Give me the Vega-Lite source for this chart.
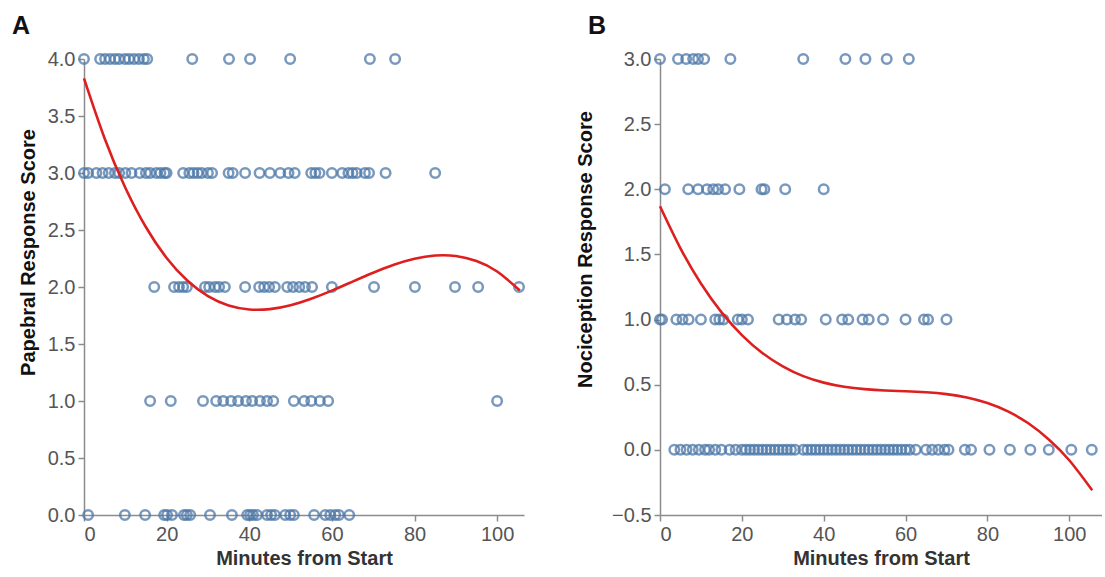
{
  "$schema": "https://vega.github.io/schema/vega-lite/v6.json",
  "background": "white",
  "padding": {"left": 12, "top": 14, "right": 0, "bottom": 2},
  "config": {
    "font": "Liberation Sans",
    "view": {"stroke": null},
    "axis": {"grid": false, "domainColor": "#8c8c8c", "domainWidth": 1.5, "tickColor": "#8c8c8c", "tickWidth": 1.5, "tickSize": 6, "labelFontSize": 20, "labelColor": "#555", "titleFontSize": 20, "titleFontWeight": "bold", "titleColor": "#333", "labelPadding": 3},
    "concat": {"spacing": 46},
    "title": {"anchor": "start", "frame": "group", "fontSize": 25, "fontWeight": "bold", "color": "#111", "dx": -72, "offset": 10}
  },
  "datasets": {
    "pA": [
      {"t":0,"s":4},{"t":3.9,"s":4},{"t":5.1,"s":4},{"t":6.3,"s":4},{"t":7.5,"s":4},{"t":8.5,"s":4},{"t":9.9,"s":4},{"t":10.9,"s":4},{"t":12.1,"s":4},{"t":13.3,"s":4},{"t":14.5,"s":4},{"t":15.3,"s":4},{"t":26.2,"s":4},{"t":35.1,"s":4},{"t":40.2,"s":4},{"t":49.9,"s":4},{"t":69.2,"s":4},{"t":75.3,"s":4},
      {"t":0,"s":3},{"t":1,"s":3},{"t":3,"s":3},{"t":4.5,"s":3},{"t":6,"s":3},{"t":7.5,"s":3},{"t":8.5,"s":3},{"t":10,"s":3},{"t":11.5,"s":3},{"t":13.5,"s":3},{"t":15,"s":3},{"t":16,"s":3},{"t":17.5,"s":3},{"t":18.5,"s":3},{"t":19.5,"s":3},{"t":20,"s":3},{"t":24,"s":3},{"t":25.5,"s":3},{"t":26.5,"s":3},{"t":27.5,"s":3},{"t":28.5,"s":3},{"t":30,"s":3},{"t":31,"s":3},{"t":35,"s":3},{"t":36,"s":3},{"t":39,"s":3},{"t":42.5,"s":3},{"t":45,"s":3},{"t":47.5,"s":3},{"t":49.5,"s":3},{"t":51,"s":3},{"t":55,"s":3},{"t":56,"s":3},{"t":57,"s":3},{"t":60,"s":3},{"t":62.5,"s":3},{"t":64,"s":3},{"t":65,"s":3},{"t":66,"s":3},{"t":68,"s":3},{"t":69,"s":3},{"t":73,"s":3},{"t":85,"s":3},
      {"t":17,"s":2},{"t":21.8,"s":2},{"t":23,"s":2},{"t":24,"s":2},{"t":24.9,"s":2},{"t":29.3,"s":2},{"t":30.3,"s":2},{"t":31.7,"s":2},{"t":32.7,"s":2},{"t":34.1,"s":2},{"t":39,"s":2},{"t":42.4,"s":2},{"t":43.6,"s":2},{"t":44.8,"s":2},{"t":46.2,"s":2},{"t":49.2,"s":2},{"t":50.6,"s":2},{"t":52.1,"s":2},{"t":53.5,"s":2},{"t":55.2,"s":2},{"t":60,"s":2},{"t":70.2,"s":2},{"t":80.1,"s":2},{"t":89.8,"s":2},{"t":95.4,"s":2},{"t":105.3,"s":2},
      {"t":16,"s":1},{"t":21,"s":1},{"t":28.8,"s":1},{"t":32,"s":1},{"t":33.7,"s":1},{"t":35.6,"s":1},{"t":37.3,"s":1},{"t":39.2,"s":1},{"t":40.7,"s":1},{"t":42.6,"s":1},{"t":44.3,"s":1},{"t":45.8,"s":1},{"t":50.8,"s":1},{"t":53.3,"s":1},{"t":55,"s":1},{"t":57.1,"s":1},{"t":59.1,"s":1},{"t":100,"s":1},
      {"t":1,"s":0},{"t":9.9,"s":0},{"t":14.8,"s":0},{"t":19.4,"s":0},{"t":20.1,"s":0},{"t":21.3,"s":0},{"t":24.2,"s":0},{"t":24.9,"s":0},{"t":25.7,"s":0},{"t":30.5,"s":0},{"t":35.8,"s":0},{"t":39.5,"s":0},{"t":40.2,"s":0},{"t":40.9,"s":0},{"t":41.9,"s":0},{"t":44.3,"s":0},{"t":45.3,"s":0},{"t":46.2,"s":0},{"t":48.7,"s":0},{"t":49.9,"s":0},{"t":50.8,"s":0},{"t":55.7,"s":0},{"t":58.4,"s":0},{"t":59.6,"s":0},{"t":60.8,"s":0},{"t":61.7,"s":0},{"t":64.2,"s":0}
    ],
    "cA": [
      {"t":0,"s":3.83},{"t":5,"s":3.303},{"t":10,"s":2.871},{"t":15,"s":2.524},{"t":20,"s":2.255},{"t":25,"s":2.057},{"t":30,"s":1.92},{"t":35,"s":1.838},{"t":40,"s":1.803},{"t":45,"s":1.806},{"t":50,"s":1.84},{"t":55,"s":1.897},{"t":60,"s":1.968},{"t":65,"s":2.047},{"t":70,"s":2.125},{"t":75,"s":2.195},{"t":80,"s":2.248},{"t":85,"s":2.276},{"t":90,"s":2.272},{"t":95,"s":2.228},{"t":100,"s":2.136},{"t":105.5,"s":1.969}
    ],
    "pB": [
      {"t":0,"s":3},{"t":4.4,"s":3},{"t":6.4,"s":3},{"t":8.1,"s":3},{"t":9.3,"s":3},{"t":10.8,"s":3},{"t":17.2,"s":3},{"t":35,"s":3},{"t":45.3,"s":3},{"t":50.2,"s":3},{"t":55.4,"s":3},{"t":60.8,"s":3},
      {"t":1.2,"s":2},{"t":6.9,"s":2},{"t":9.3,"s":2},{"t":11.5,"s":2},{"t":13,"s":2},{"t":14.2,"s":2},{"t":15.9,"s":2},{"t":19.4,"s":2},{"t":24.8,"s":2},{"t":25.5,"s":2},{"t":30.6,"s":2},{"t":40,"s":2},
      {"t":0,"s":1},{"t":0.5,"s":1},{"t":4,"s":1},{"t":5.5,"s":1},{"t":7,"s":1},{"t":10,"s":1},{"t":13.5,"s":1},{"t":14.5,"s":1},{"t":15.5,"s":1},{"t":19,"s":1},{"t":20,"s":1},{"t":21.5,"s":1},{"t":29,"s":1},{"t":31,"s":1},{"t":33,"s":1},{"t":34.5,"s":1},{"t":40.5,"s":1},{"t":44.5,"s":1},{"t":46,"s":1},{"t":49.5,"s":1},{"t":51,"s":1},{"t":54.5,"s":1},{"t":60,"s":1},{"t":64.5,"s":1},{"t":65.5,"s":1},{"t":70,"s":1},
      {"t":3.5,"s":0},{"t":5,"s":0},{"t":6.5,"s":0},{"t":8,"s":0},{"t":9.5,"s":0},{"t":11,"s":0},{"t":12,"s":0},{"t":13.5,"s":0},{"t":15,"s":0},{"t":17,"s":0},{"t":18.5,"s":0},{"t":20,"s":0},{"t":21,"s":0},{"t":22,"s":0},{"t":23,"s":0},{"t":24,"s":0},{"t":25,"s":0},{"t":26,"s":0},{"t":27,"s":0},{"t":28,"s":0},{"t":29,"s":0},{"t":30,"s":0},{"t":31,"s":0},{"t":32,"s":0},{"t":33,"s":0},{"t":35,"s":0},{"t":36,"s":0},{"t":37,"s":0},{"t":38,"s":0},{"t":39,"s":0},{"t":40,"s":0},{"t":41,"s":0},{"t":42,"s":0},{"t":43,"s":0},{"t":44,"s":0},{"t":45,"s":0},{"t":46,"s":0},{"t":47,"s":0},{"t":48,"s":0},{"t":49,"s":0},{"t":50,"s":0},{"t":51,"s":0},{"t":52,"s":0},{"t":53,"s":0},{"t":54,"s":0},{"t":55,"s":0},{"t":56,"s":0},{"t":57,"s":0},{"t":58,"s":0},{"t":59,"s":0},{"t":60,"s":0},{"t":61,"s":0},{"t":62.5,"s":0},{"t":65,"s":0},{"t":66.5,"s":0},{"t":68,"s":0},{"t":69.5,"s":0},{"t":70.5,"s":0},{"t":74.5,"s":0},{"t":76,"s":0},{"t":80.5,"s":0},{"t":85.5,"s":0},{"t":90.5,"s":0},{"t":95,"s":0},{"t":100.5,"s":0},{"t":105.5,"s":0}
    ],
    "cB": [
      {"t":0,"s":1.87},{"t":5,"s":1.547},{"t":10,"s":1.277},{"t":15,"s":1.057},{"t":20,"s":0.881},{"t":25,"s":0.744},{"t":30,"s":0.641},{"t":35,"s":0.566},{"t":40,"s":0.516},{"t":45,"s":0.484},{"t":50,"s":0.466},{"t":55,"s":0.456},{"t":60,"s":0.45},{"t":65,"s":0.442},{"t":70,"s":0.428},{"t":75,"s":0.402},{"t":80,"s":0.359},{"t":85,"s":0.295},{"t":90,"s":0.204},{"t":95,"s":0.08},{"t":100,"s":-0.08},{"t":105.6,"s":-0.31}
    ]
  },
  "hconcat": [
    {
      "title": {"text": "A"},
      "width": 440,
      "height": 456,
      "layer": [
        {
          "data": {"name": "pA"},
          "mark": {"type": "point", "shape": "circle", "filled": false, "strokeWidth": 2.5, "size": 90, "color": "#4c78a8", "opacity": 0.75},
          "encoding": {
            "x": {"field": "t", "type": "quantitative", "scale": {"domain": [0, 106.5], "nice": false}, "axis": {"values": [0, 20, 40, 60, 80, 100], "title": "Minutes from Start"}},
            "y": {"field": "s", "type": "quantitative", "scale": {"domain": [0, 4], "nice": false, "zero": false}, "axis": {"values": [0, 0.5, 1, 1.5, 2, 2.5, 3, 3.5, 4], "format": ".1f", "title": "Papebral Response Score", "titleColor": "#111", "titleY": 193, "titlePadding": 9}}
          }
        },
        {
          "data": {"name": "cA"},
          "mark": {"type": "line", "color": "#dd1f1f", "strokeWidth": 2.6, "interpolate": "natural"},
          "encoding": {
            "x": {"field": "t", "type": "quantitative"},
            "y": {"field": "s", "type": "quantitative"}
          }
        }
      ]
    },
    {
      "title": {"text": "B"},
      "width": 442,
      "height": 456,
      "layer": [
        {
          "data": {"name": "pB"},
          "mark": {"type": "point", "shape": "circle", "filled": false, "strokeWidth": 2.5, "size": 90, "color": "#4c78a8", "opacity": 0.75},
          "encoding": {
            "x": {"field": "t", "type": "quantitative", "scale": {"domain": [0, 108], "nice": false}, "axis": {"values": [0, 20, 40, 60, 80, 100], "title": "Minutes from Start"}},
            "y": {"field": "s", "type": "quantitative", "scale": {"domain": [-0.5, 3], "nice": false, "zero": false}, "axis": {"values": [-0.5, 0, 0.5, 1, 1.5, 2, 2.5, 3], "format": ".1f", "title": "Nociception Response Score", "titleColor": "#111", "titleY": 190, "titlePadding": 16}}
          }
        },
        {
          "data": {"name": "cB"},
          "mark": {"type": "line", "color": "#dd1f1f", "strokeWidth": 2.6, "interpolate": "natural"},
          "encoding": {
            "x": {"field": "t", "type": "quantitative"},
            "y": {"field": "s", "type": "quantitative"}
          }
        }
      ]
    }
  ]
}
